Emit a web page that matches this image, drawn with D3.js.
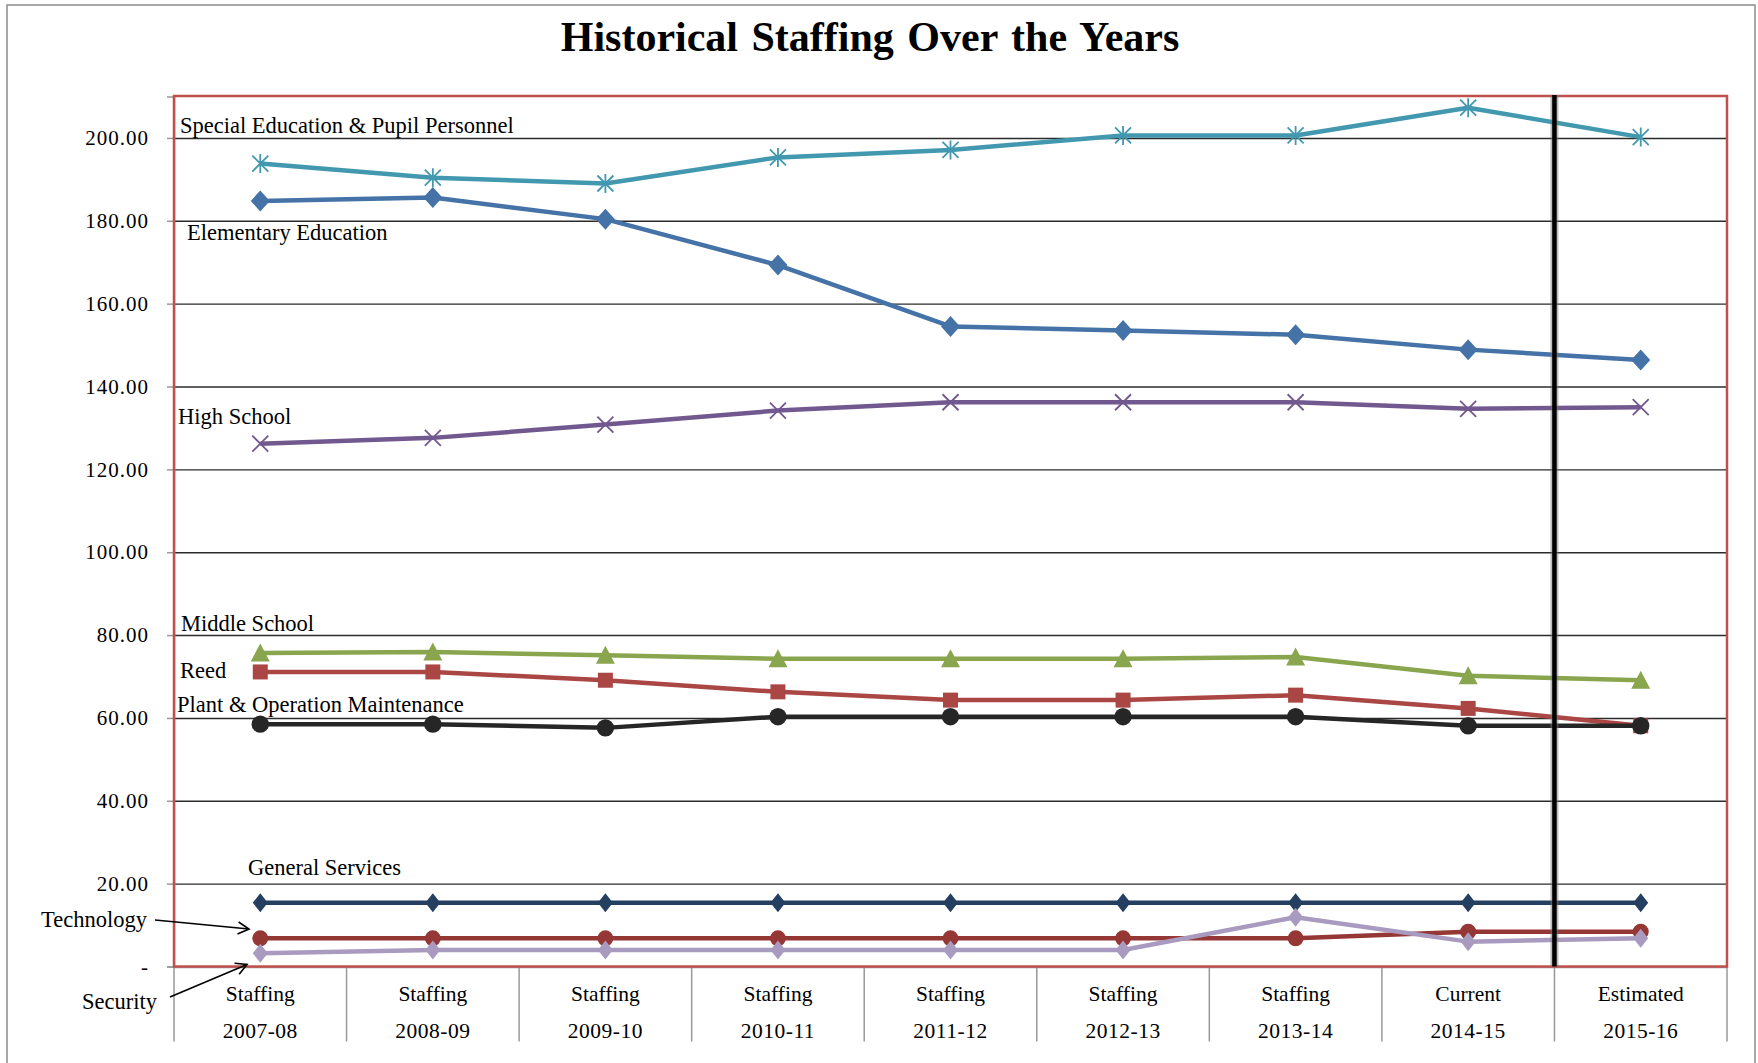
<!DOCTYPE html>
<html>
<head>
<meta charset="utf-8">
<title>Historical Staffing Over the Years</title>
<script src="https://cdn.jsdelivr.net/npm/d3@7"></script>
<style>
  html, body { margin: 0; padding: 0; background: #fff; }
  svg { display: block; }
  text { font-family: "Liberation Serif", "Times New Roman", serif; fill: #000; }
</style>
</head>
<body>
<div id="chart"></div>
<script>
// ---- data ----
var years = ["2007-08", "2008-09", "2009-10", "2010-11", "2011-12", "2012-13", "2013-14", "2014-15", "2015-16"];
var yearKind = ["Staffing", "Staffing", "Staffing", "Staffing", "Staffing", "Staffing", "Staffing", "Current", "Estimated"];
var yTicks = [0, 20, 40, 60, 80, 100, 120, 140, 160, 180, 200];

var specialEd       = [193.8, 190.4, 189.0, 195.3, 197.1, 200.6, 200.6, 207.3, 200.2];
var elementary      = [184.8, 185.6, 180.4, 169.3, 154.5, 153.5, 152.5, 148.9, 146.4];
var highSchool      = [126.2, 127.6, 130.8, 134.2, 136.2, 136.2, 136.2, 134.6, 135.0];
var middleSchool    = [75.7, 75.9, 75.1, 74.3, 74.3, 74.3, 74.7, 70.2, 69.1];
var reed            = [71.1, 71.1, 69.1, 66.3, 64.3, 64.3, 65.5, 62.3, 58.1];
var plant           = [58.5, 58.5, 57.6, 60.3, 60.3, 60.3, 60.3, 58.1, 58.1];
var generalServices = [15.4, 15.4, 15.4, 15.4, 15.4, 15.4, 15.4, 15.4, 15.4];
var technology      = [6.8, 6.8, 6.8, 6.8, 6.8, 6.8, 6.8, 8.4, 8.4];
var security        = [3.2, 4.0, 4.0, 4.0, 4.0, 4.0, 11.9, 6.0, 6.8];

// ---- look of each series (draw order = array order) ----
var series = [
  { name: "General Services", values: generalServices, color: "#243f60", marker: "diamondS" },
  { name: "Technology", values: technology, color: "#953735", marker: "circleS" },
  { name: "Security", values: security, color: "#a89bbf", marker: "diamondS" },
  { name: "Reed", values: reed, color: "#aa4643", marker: "square" },
  { name: "Plant & Operation Maintenance", values: plant, color: "#262626", marker: "circle" },
  { name: "Middle School", values: middleSchool, color: "#89a54e", marker: "triangle" },
  { name: "High School", values: highSchool, color: "#71588f", marker: "x" },
  { name: "Elementary Education", values: elementary, color: "#4572a7", marker: "diamond" },
  { name: "Special Education & Pupil Personnel", values: specialEd, color: "#4198af", marker: "star" }
];

// where the series names sit (pixels), plus the two arrowed ones
var labels = [
  { text: "Special Education & Pupil Personnel", x: 180, y: 133 },
  { text: "Elementary Education", x: 187, y: 240 },
  { text: "High School", x: 178, y: 424 },
  { text: "Middle School", x: 181, y: 631 },
  { text: "Reed", x: 180, y: 678 },
  { text: "Plant & Operation Maintenance", x: 177, y: 712 },
  { text: "General Services", x: 248, y: 875 },
  { text: "Technology", x: 41, y: 927 },
  { text: "Security", x: 82, y: 1009 }
];
var arrows = [
  { x1: 155, y1: 920, x2: 249, y2: 929 },
  { x1: 170, y1: 997, x2: 247, y2: 964.5 }
];

(function() {

var width = 1758, height = 1063;
var pLeft = 174, pRight = 1727, pTop = 96, pBottom = 966.5;

var svg = d3.select("#chart").append("svg")
  .attr("width", width)
  .attr("height", height);

svg.append("defs").append("marker")
    .attr("id", "arrowhead")
    .attr("viewBox", "-12 -7 14 14")
    .attr("refX", 0).attr("refY", 0)
    .attr("markerWidth", 14).attr("markerHeight", 14)
    .attr("markerUnits", "userSpaceOnUse")
    .attr("orient", "auto")
  .append("path")
    .attr("d", "M-11,-6 L0,0 L-11,6")
    .attr("fill", "none")
    .attr("stroke", "#000")
    .attr("stroke-width", 1.6);

// outer frame of the chart area
svg.append("rect")
  .attr("x", 7).attr("y", 5)
  .attr("width", 1748).attr("height", 1080)
  .attr("fill", "none")
  .attr("stroke", "#8c8c8c")
  .attr("stroke-width", 1.5);

// title
svg.append("text")
  .attr("x", 870).attr("y", 51)
  .attr("text-anchor", "middle")
  .style("font-size", "42px")
  .style("font-weight", "bold")
  .style("word-spacing", "3px")
  .text("Historical Staffing Over the Years");

var x = d3.scaleBand().domain(years).range([pLeft, pRight]).padding(0);
var y = d3.scaleLinear().domain([0, 210]).range([pBottom, pTop + 0.5]);
var cx = function(i) { return x(years[i]) + x.bandwidth() / 2; };

// gridlines
svg.append("g")
  .attr("transform", "translate(" + pLeft + ",0)")
  .call(d3.axisLeft(y).tickValues(yTicks.slice(1)).tickSize(-(pRight - pLeft)).tickFormat(""))
  .call(function(g) { g.select(".domain").remove(); })
  .selectAll("line")
    .attr("stroke", "#2b2b2b")
    .attr("stroke-width", 1.4);

// y axis
var yAxis = svg.append("g")
  .attr("transform", "translate(" + pLeft + ",0)")
  .call(d3.axisLeft(y)
    .tickValues(yTicks)
    .tickSize(7)
    .tickPadding(18)
    .tickFormat(function(d) { return d === 0 ? "-" : d3.format(".2f")(d); }));
yAxis.select(".domain").attr("stroke", "#999").attr("stroke-width", 1.5);
yAxis.selectAll(".tick line").attr("stroke", "#999").attr("stroke-width", 1.5);
yAxis.selectAll(".tick text")
  .style("font-size", "21px")
  .style("letter-spacing", "1px")
  .style("font-family", "'Liberation Serif', serif")
  .attr("fill", "#000");

// x axis: category boxes below the plot
var xAxis = svg.append("g").attr("transform", "translate(0," + pBottom + ")");
xAxis.append("line")
  .attr("x1", pLeft).attr("x2", pRight)
  .attr("y1", 1).attr("y2", 1)
  .attr("stroke", "#999").attr("stroke-width", 1.5);
var edges = years.map(function(d) { return x(d); }).concat([pRight]);
xAxis.selectAll("line.div")
  .data(edges)
  .enter().append("line")
    .attr("class", "div")
    .attr("x1", function(d) { return d; })
    .attr("x2", function(d) { return d; })
    .attr("y1", 0).attr("y2", 75)
    .attr("stroke", "#999").attr("stroke-width", 1.5);
var cat = xAxis.selectAll("g.cat")
  .data(years)
  .enter().append("g")
    .attr("class", "cat")
    .attr("transform", function(d) { return "translate(" + (x(d) + x.bandwidth() / 2) + ",0)"; });
cat.append("text")
  .attr("y", 34)
  .attr("text-anchor", "middle")
  .style("font-size", "21.5px")
  .text(function(d, i) { return yearKind[i]; });
cat.append("text")
  .attr("y", 71)
  .attr("text-anchor", "middle")
  .style("font-size", "21.5px")
  .style("letter-spacing", "0.5px")
  .text(function(d) { return d; });

// marker shapes
function markerPath(type) {
  switch (type) {
    case "diamond": return "M0,-10.5L9.5,0L0,10.5L-9.5,0Z";
    case "diamondS": return "M0,-9.5L7.5,0L0,9.5L-7.5,0Z";
    case "square": return "M-7.5,-7.5H7.5V7.5H-7.5Z";
    case "triangle": return "M0,-9.5L9.5,8.5L-9.5,8.5Z";
    case "circle": return d3.symbol(d3.symbolCircle, Math.PI * 8.7 * 8.7)();
    case "circleS": return d3.symbol(d3.symbolCircle, Math.PI * 8 * 8)();
    case "x": return "M-8,-8L8,8M-8,8L8,-8";
    case "star": return "M-8,-8L8,8M-8,8L8,-8M0,-9.5V9.5";
  }
}
var openMarker = { x: true, star: true };

var line = d3.line()
  .x(function(d, i) { return cx(i); })
  .y(function(d) { return y(d); });

var plotArea = svg.append("g");
series.forEach(function(s) {
  var g = plotArea.append("g");
  g.append("path")
    .datum(s.values)
    .attr("d", line)
    .attr("fill", "none")
    .attr("stroke", s.color)
    .attr("stroke-width", 4.5)
    .attr("stroke-linejoin", "round");
  g.selectAll("path.mk")
    .data(s.values)
    .enter().append("path")
      .attr("class", "mk")
      .attr("transform", function(d, i) { return "translate(" + cx(i) + "," + y(d) + ")"; })
      .attr("d", markerPath(s.marker))
      .attr("fill", openMarker[s.marker] ? "none" : s.color)
      .attr("stroke", s.color)
      .attr("stroke-width", openMarker[s.marker] ? 1.8 : 0);
});

// plot border
svg.append("rect")
  .attr("x", pLeft).attr("y", pTop)
  .attr("width", pRight - pLeft).attr("height", pBottom - pTop)
  .attr("fill", "none")
  .attr("stroke", "#c0504d")
  .attr("stroke-width", 2.5);

// divider between actual and estimated
var splitX = x(years[years.length - 1]);
svg.append("line")
  .attr("x1", splitX).attr("x2", splitX)
  .attr("y1", pTop - 1).attr("y2", pBottom)
  .attr("stroke", "#777").attr("stroke-opacity", 0.5)
  .attr("stroke-width", 8);
svg.append("line")
  .attr("x1", splitX).attr("x2", splitX)
  .attr("y1", pTop - 1).attr("y2", pBottom)
  .attr("stroke", "#000")
  .attr("stroke-width", 4.5);

// series names
svg.append("g").selectAll("text")
  .data(labels)
  .enter().append("text")
    .attr("x", function(d) { return d.x; })
    .attr("y", function(d) { return d.y; })
    .style("font-size", "22.5px")
    .text(function(d) { return d.text; });

svg.append("g").selectAll("line")
  .data(arrows)
  .enter().append("line")
    .attr("x1", function(d) { return d.x1; })
    .attr("y1", function(d) { return d.y1; })
    .attr("x2", function(d) { return d.x2; })
    .attr("y2", function(d) { return d.y2; })
    .attr("stroke", "#000")
    .attr("stroke-width", 1.6)
    .attr("marker-end", "url(#arrowhead)");

})();
</script>
</body>
</html>
